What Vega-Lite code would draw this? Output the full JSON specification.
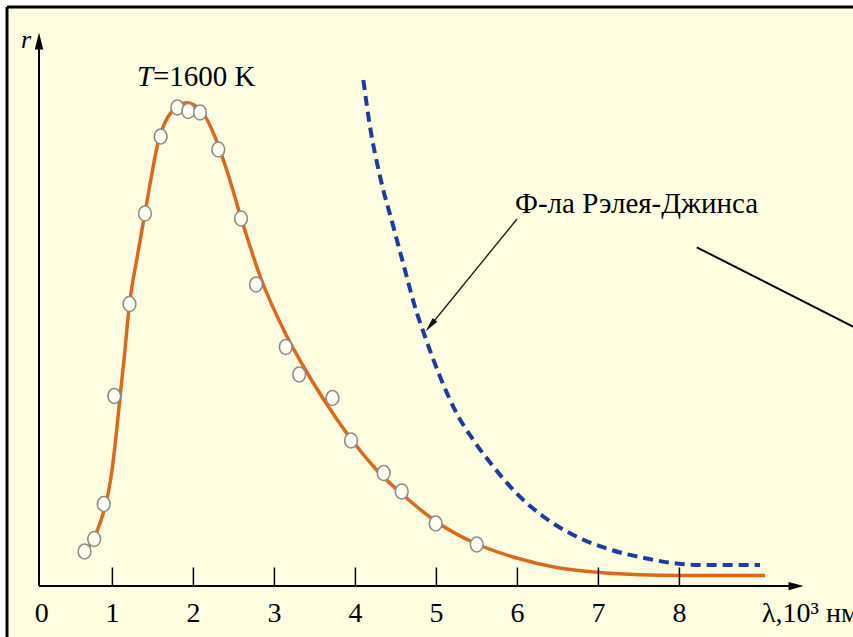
{
  "$schema": "https://vega.github.io/schema/vega-lite/v6.json",
  "width": 846,
  "height": 630,
  "autosize": {"type": "none"},
  "padding": {"left": 7, "top": 7, "right": 0, "bottom": 0},
  "background": "#ffffff",
  "view": {"fill": "#FFFEE0", "stroke": null},
  "datasets": {
    "curve": [
      {"x": 0.699, "y": 7.6}, {"x": 0.806, "y": 10.8}, {"x": 0.888, "y": 14.6}, {"x": 0.949, "y": 18.6},
      {"x": 0.999, "y": 23.6}, {"x": 1.053, "y": 31.2}, {"x": 1.094, "y": 37.8}, {"x": 1.143, "y": 45.2},
      {"x": 1.211, "y": 56.4}, {"x": 1.304, "y": 65.6}, {"x": 1.402, "y": 74.6}, {"x": 1.505, "y": 84.0},
      {"x": 1.551, "y": 87.8}, {"x": 1.588, "y": 90.2}, {"x": 1.649, "y": 92.7}, {"x": 1.732, "y": 94.86},
      {"x": 1.814, "y": 96.1}, {"x": 1.917, "y": 96.64}, {"x": 1.999, "y": 96.3}, {"x": 2.081, "y": 95.3},
      {"x": 2.164, "y": 93.4}, {"x": 2.267, "y": 89.8}, {"x": 2.411, "y": 83.2}, {"x": 2.596, "y": 73.2},
      {"x": 2.822, "y": 62.0}, {"x": 3.152, "y": 50.0}, {"x": 3.399, "y": 42.8}, {"x": 3.686, "y": 35.4},
      {"x": 3.974, "y": 28.8}, {"x": 4.263, "y": 23.2}, {"x": 4.674, "y": 17.0}, {"x": 5.004, "y": 12.8},
      {"x": 5.498, "y": 8.4}, {"x": 5.991, "y": 5.6}, {"x": 6.485, "y": 3.7}, {"x": 7.02, "y": 2.7},
      {"x": 7.514, "y": 2.24}, {"x": 8.007, "y": 2.1}, {"x": 8.501, "y": 2.1}, {"x": 9.057, "y": 2.1}
    ],
    "rj": [
      {"x": 4.098, "y": 101.2}, {"x": 4.18, "y": 91.9}, {"x": 4.304, "y": 81.9}, {"x": 4.468, "y": 71.9},
      {"x": 4.633, "y": 61.9}, {"x": 4.723, "y": 56.5}, {"x": 4.859, "y": 49.9}, {"x": 5.044, "y": 41.9},
      {"x": 5.251, "y": 34.5}, {"x": 5.456, "y": 29.2}, {"x": 5.702, "y": 23.9}, {"x": 5.991, "y": 18.5},
      {"x": 6.32, "y": 13.9}, {"x": 6.69, "y": 10.2}, {"x": 7.102, "y": 7.5}, {"x": 7.596, "y": 5.5},
      {"x": 7.967, "y": 4.5}, {"x": 8.254, "y": 4.2}, {"x": 8.995, "y": 4.2}
    ],
    "pts": [
      {"x": 0.656, "y": 6.9}, {"x": 0.775, "y": 9.4}, {"x": 0.893, "y": 16.4}, {"x": 1.023, "y": 38.0},
      {"x": 1.211, "y": 56.4}, {"x": 1.402, "y": 74.5}, {"x": 1.596, "y": 89.9}, {"x": 1.801, "y": 95.7},
      {"x": 1.937, "y": 95.0}, {"x": 2.081, "y": 94.7}, {"x": 2.307, "y": 87.3}, {"x": 2.588, "y": 73.5},
      {"x": 2.773, "y": 60.3}, {"x": 3.14, "y": 47.8}, {"x": 3.306, "y": 42.3}, {"x": 3.717, "y": 37.6},
      {"x": 3.946, "y": 29.1}, {"x": 4.349, "y": 22.6}, {"x": 4.572, "y": 18.9}, {"x": 4.991, "y": 12.5},
      {"x": 5.498, "y": 8.3}
    ],
    "lines": [
      {"x": 0.094, "y": 0, "x2": 9.45, "y2": 0},
      {"x": 0.094, "y": 0, "x2": 0.094, "y2": 109},
      {"x": 8.214, "y": 67.74, "x2": 10.23, "y2": 51.16}
    ],
    "pointer": [
      {"x": 5.995, "y": 73.4, "x2": 4.924, "y2": 52.06}
    ],
    "ticks": [
      {"t": 1}, {"t": 2}, {"t": 3}, {"t": 4}, {"t": 5}, {"t": 6}, {"t": 7}, {"t": 8}
    ],
    "ticklabels": [
      {"t": 0.127, "label": "0"}, {"t": 1, "label": "1"}, {"t": 2, "label": "2"}, {"t": 3, "label": "3"},
      {"t": 4, "label": "4"}, {"t": 5, "label": "5"}, {"t": 6, "label": "6"}, {"t": 7, "label": "7"},
      {"t": 8, "label": "8"}
    ]
  },
  "layer": [
    {
      "data": {"values": [{}]},
      "mark": {"type": "rule", "color": "black", "strokeWidth": 3},
      "encoding": {
        "y": {"datum": 115.8, "type": "quantitative", "scale": {"domain": [-10.2, 115.8], "nice": false, "zero": false}, "axis": null}
      }
    },
    {
      "data": {"values": [{}]},
      "mark": {"type": "rule", "color": "black", "strokeWidth": 3},
      "encoding": {
        "x": {"datum": -0.3012, "type": "quantitative", "scale": {"domain": [-0.3012, 10.143], "nice": false, "zero": false}, "axis": null}
      }
    },
    {
      "data": {"name": "curve"},
      "mark": {"type": "line", "color": "#D8691E", "strokeWidth": 3.5, "interpolate": "monotone"},
      "encoding": {
        "x": {"field": "x", "type": "quantitative", "scale": {"domain": [-0.3012, 10.143], "nice": false, "zero": false}, "axis": null},
        "y": {"field": "y", "type": "quantitative", "scale": {"domain": [-10.2, 115.8], "nice": false, "zero": false}, "axis": null}
      }
    },
    {
      "data": {"name": "rj"},
      "mark": {"type": "line", "color": "#1E3CA0", "strokeWidth": 4, "strokeDash": [10, 6], "interpolate": "monotone"},
      "encoding": {
        "x": {"field": "x", "type": "quantitative", "scale": {"domain": [-0.3012, 10.143], "nice": false, "zero": false}, "axis": null},
        "y": {"field": "y", "type": "quantitative", "scale": {"domain": [-10.2, 115.8], "nice": false, "zero": false}, "axis": null}
      }
    },
    {
      "data": {"name": "ticks"},
      "mark": {"type": "rule", "color": "black", "strokeWidth": 1.5},
      "encoding": {
        "x": {"field": "t", "type": "quantitative", "scale": {"domain": [-0.3012, 10.143], "nice": false, "zero": false}, "axis": null},
        "y": {"datum": 0, "type": "quantitative", "scale": {"domain": [-10.2, 115.8], "nice": false, "zero": false}, "axis": null},
        "y2": {"datum": 3.7}
      }
    },
    {
      "data": {"name": "ticklabels"},
      "mark": {"type": "text", "font": "Liberation Serif", "fontSize": 28, "align": "center", "baseline": "alphabetic", "color": "black"},
      "encoding": {
        "x": {"field": "t", "type": "quantitative", "scale": {"domain": [-0.3012, 10.143], "nice": false, "zero": false}, "axis": null},
        "y": {"datum": -7.2, "type": "quantitative", "scale": {"domain": [-10.2, 115.8], "nice": false, "zero": false}, "axis": null},
        "text": {"field": "label"}
      }
    },
    {
      "data": {"name": "lines"},
      "mark": {"type": "rule", "color": "black", "strokeWidth": 2},
      "encoding": {
        "x": {"field": "x", "type": "quantitative", "scale": {"domain": [-0.3012, 10.143], "nice": false, "zero": false}, "axis": null},
        "y": {"field": "y", "type": "quantitative", "scale": {"domain": [-10.2, 115.8], "nice": false, "zero": false}, "axis": null},
        "x2": {"field": "x2"},
        "y2": {"field": "y2"}
      }
    },
    {
      "data": {"name": "pointer"},
      "mark": {"type": "rule", "color": "#222222", "strokeWidth": 1.4},
      "encoding": {
        "x": {"field": "x", "type": "quantitative", "scale": {"domain": [-0.3012, 10.143], "nice": false, "zero": false}, "axis": null},
        "y": {"field": "y", "type": "quantitative", "scale": {"domain": [-10.2, 115.8], "nice": false, "zero": false}, "axis": null},
        "x2": {"field": "x2"},
        "y2": {"field": "y2"}
      }
    },
    {
      "data": {"values": [{"x": 9.44, "y": 0}]},
      "mark": {"type": "point", "shape": "M -1 -0.55 L 1 0 L -1 0.55 Z", "size": 225, "filled": true, "color": "black", "opacity": 1},
      "encoding": {
        "x": {"field": "x", "type": "quantitative", "scale": {"domain": [-0.3012, 10.143], "nice": false, "zero": false}, "axis": null},
        "y": {"field": "y", "type": "quantitative", "scale": {"domain": [-10.2, 115.8], "nice": false, "zero": false}, "axis": null}
      }
    },
    {
      "data": {"values": [{"x": 0.094, "y": 109}]},
      "mark": {"type": "point", "shape": "M -0.5 1 L 0 -1 L 0.5 1 Z", "size": 289, "filled": true, "color": "black", "opacity": 1},
      "encoding": {
        "x": {"field": "x", "type": "quantitative", "scale": {"domain": [-0.3012, 10.143], "nice": false, "zero": false}, "axis": null},
        "y": {"field": "y", "type": "quantitative", "scale": {"domain": [-10.2, 115.8], "nice": false, "zero": false}, "axis": null}
      }
    },
    {
      "data": {"values": [{"x": 4.924, "y": 52.06}]},
      "mark": {"type": "point", "shape": "M -0.4 1 L 0 -1 L 0.4 1 Z", "size": 225, "angle": 219, "filled": true, "color": "#111111", "opacity": 1},
      "encoding": {
        "x": {"field": "x", "type": "quantitative", "scale": {"domain": [-0.3012, 10.143], "nice": false, "zero": false}, "axis": null},
        "y": {"field": "y", "type": "quantitative", "scale": {"domain": [-10.2, 115.8], "nice": false, "zero": false}, "axis": null}
      }
    },
    {
      "data": {"name": "pts"},
      "mark": {"type": "point", "shape": "M -0.85 0 A 0.85 1 0 1 0 0.85 0 A 0.85 1 0 1 0 -0.85 0 Z", "size": 225, "filled": false, "fill": "#FFFFF2", "fillOpacity": 1, "stroke": "#8C8C8C", "strokeWidth": 1.6, "opacity": 1},
      "encoding": {
        "x": {"field": "x", "type": "quantitative", "scale": {"domain": [-0.3012, 10.143], "nice": false, "zero": false}, "axis": null},
        "y": {"field": "y", "type": "quantitative", "scale": {"domain": [-10.2, 115.8], "nice": false, "zero": false}, "axis": null}
      }
    },
    {
      "data": {"values": [{"x": 1.304, "y": 100, "label": "T"}]},
      "mark": {"type": "text", "font": "Liberation Serif", "fontSize": 29, "fontStyle": "italic", "align": "left", "baseline": "alphabetic", "color": "black"},
      "encoding": {
        "x": {"field": "x", "type": "quantitative", "scale": {"domain": [-0.3012, 10.143], "nice": false, "zero": false}, "axis": null},
        "y": {"field": "y", "type": "quantitative", "scale": {"domain": [-10.2, 115.8], "nice": false, "zero": false}, "axis": null},
        "text": {"field": "label"}
      }
    },
    {
      "data": {"values": [{"x": -0.067, "y": 107.6, "label": "r"}]},
      "mark": {"type": "text", "font": "Liberation Serif", "fontSize": 26, "fontStyle": "italic", "align": "center", "baseline": "alphabetic", "color": "black"},
      "encoding": {
        "x": {"field": "x", "type": "quantitative", "scale": {"domain": [-0.3012, 10.143], "nice": false, "zero": false}, "axis": null},
        "y": {"field": "y", "type": "quantitative", "scale": {"domain": [-10.2, 115.8], "nice": false, "zero": false}, "axis": null},
        "text": {"field": "label"}
      }
    },
    {
      "data": {"values": [
        {"x": 1.5, "y": 100, "label": "=1600 K"},
        {"x": 5.97, "y": 74.6, "label": "Ф-ла Рэлея-Джинса"}
      ]},
      "mark": {"type": "text", "font": "Liberation Serif", "fontSize": 29, "align": "left", "baseline": "alphabetic", "color": "black"},
      "encoding": {
        "x": {"field": "x", "type": "quantitative", "scale": {"domain": [-0.3012, 10.143], "nice": false, "zero": false}, "axis": null},
        "y": {"field": "y", "type": "quantitative", "scale": {"domain": [-10.2, 115.8], "nice": false, "zero": false}, "axis": null},
        "text": {"field": "label"}
      }
    },
    {
      "data": {"values": [{"x": 9.02, "y": -7.2, "label": "λ,10³ нм"}]},
      "mark": {"type": "text", "font": "Liberation Serif", "fontSize": 28, "align": "left", "baseline": "alphabetic", "color": "black"},
      "encoding": {
        "x": {"field": "x", "type": "quantitative", "scale": {"domain": [-0.3012, 10.143], "nice": false, "zero": false}, "axis": null},
        "y": {"field": "y", "type": "quantitative", "scale": {"domain": [-10.2, 115.8], "nice": false, "zero": false}, "axis": null},
        "text": {"field": "label"}
      }
    }
  ]
}
